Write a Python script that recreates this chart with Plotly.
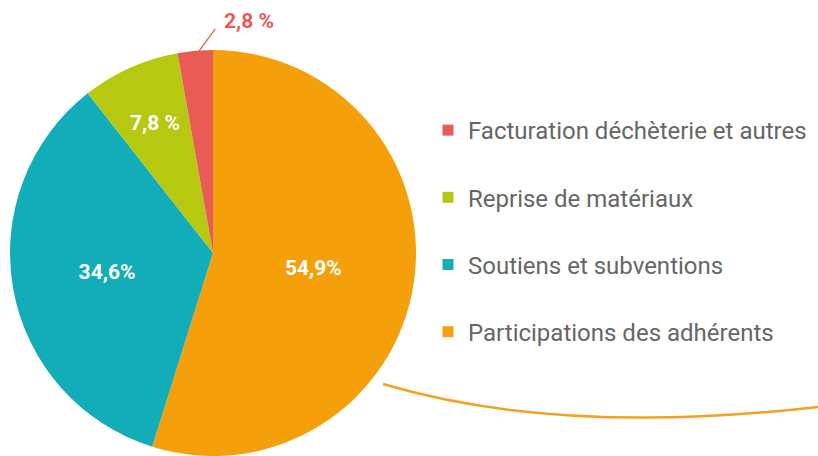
import math
import plotly.graph_objects as go

# Budget breakdown (percent of revenue)
categories = ["Participations des adhérents", "Soutiens et subventions",
              "Reprise de matériaux", "Facturation déchèterie et autres"]
values = [54.9, 34.6, 7.8, 2.8]
pct_sep = ["", "", " ", " "]
colors = ["#f5a00a", "#12adb9", "#b6c80f", "#e95b55"]

pct_text = [f"{v:.1f}".replace(".", ",") + s + "%" for v, s in zip(values, pct_sep)]

W, H = 818, 456
FONT = "Roboto"
LABEL_FONT = dict(family=FONT, size=21, color="white", weight="bold")

# Pie placement in pixels
CX, CY, R = 213, 253, 203

fig = go.Figure()

fig.add_trace(go.Pie(
    labels=categories,
    values=values,
    text=pct_text,
    textinfo="text",
    textposition=["inside", "inside", "none", "none"],
    insidetextorientation="horizontal",
    insidetextfont=LABEL_FONT,
    marker=dict(colors=colors, line=dict(width=0)),
    sort=False,
    direction="clockwise",
    rotation=0,
    showlegend=False,
    domain=dict(x=[(CX - R) / W, (CX + R) / W], y=[(H - CY - R) / H, (H - CY + R) / H]),
    hoverinfo="label+text",
))

# Legend entries, listed from the smallest share to the largest
for name, col in reversed(list(zip(categories, colors))):
    fig.add_trace(go.Scatter(
        x=[None], y=[None], mode="markers", name=name,
        legendgroup=name,
        marker=dict(symbol="square", size=11, color=col),
    ))

def px(x, y):
    return x / W, 1 - y / H

total = sum(values)

def slice_point(i, frac):
    """Pixel point at the middle angle of slice i, frac * R from the centre."""
    a = (sum(values[:i]) + values[i] / 2) / total * 2 * math.pi
    return CX + frac * R * math.sin(a), CY - frac * R * math.cos(a)

# Label for the small green slice, kept further out towards the rim
gx, gy = slice_point(2, 0.70)
g = px(gx, gy)
fig.add_annotation(x=g[0], y=g[1], xref="paper", yref="paper",
                   xanchor="center", yanchor="middle",
                   text=pct_text[2], showarrow=False, font=LABEL_FONT)

# Callout for the thin last slice: leader line from its arc
ex, ey = slice_point(3, 1.0)
ex += 4
a0, a1 = px(ex, ey), px(ex + 16, ey - 22)
fig.add_shape(type="line", xref="paper", yref="paper",
              x0=a0[0], y0=a0[1], x1=a1[0], y1=a1[1],
              line=dict(color=colors[3], width=1.3))
t = px(ex + 50, ey - 30)
fig.add_annotation(
    x=t[0], y=t[1], xref="paper", yref="paper",
    xanchor="center", yanchor="middle",
    text=pct_text[3], showarrow=False,
    font=dict(family=FONT, size=21, color=colors[3], weight="bold"),
)

# Decorative swoosh under the chart
p0, c, p2 = px(383, 384), px(560, 436.5), px(818, 407)
fig.add_shape(
    type="path", xref="paper", yref="paper",
    path=f"M {p0[0]},{p0[1]} Q {c[0]},{c[1]} {p2[0]},{p2[1]}",
    line=dict(color="#f5a020", width=2.5),
)

fig.update_layout(
    width=W, height=H,
    margin=dict(l=0, r=0, t=0, b=0),
    paper_bgcolor="white", plot_bgcolor="white",
    xaxis=dict(visible=False), yaxis=dict(visible=False),
    legend=dict(
        x=428 / W, y=1 - 108 / H, xanchor="left", yanchor="top",
        font=dict(family=FONT, size=24, color="#666666"),
        tracegroupgap=33, itemwidth=30,
        bgcolor="rgba(0,0,0,0)",
    ),
)

fig.write_html("out.html")
